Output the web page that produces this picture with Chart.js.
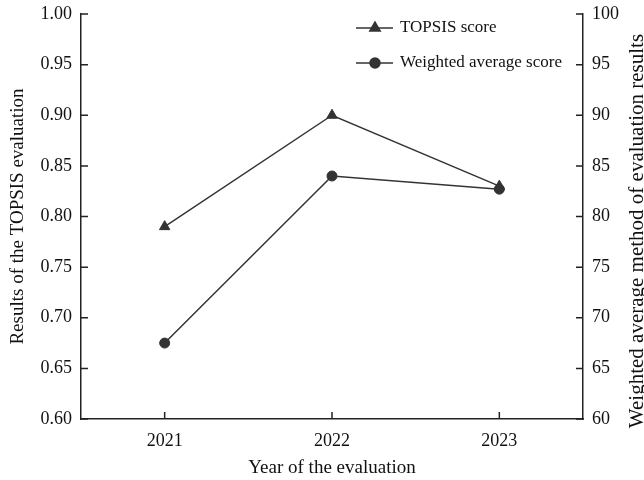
<!DOCTYPE html>
<html lang="en">
<head>
    <meta charset="UTF-8">
    <title>TOPSIS vs weighted average evaluation</title>
    <script src="https://cdn.jsdelivr.net/npm/chart.js"></script>
    <style>
        html, body { margin: 0; padding: 0; background: #ffffff; }
        #wrap { width: 644px; height: 480px; }
    </style>
</head>
<body>
    <div id="wrap"><canvas id="chart" width="644" height="480"></canvas></div>

    <script>
        const years = ['2021', '2022', '2023'];
        const topsisScore = [0.79, 0.90, 0.83];
        const weightedScore = [67.5, 84.0, 82.7];
        const leftTicks = [0.60, 0.65, 0.70, 0.75, 0.80, 0.85, 0.90, 0.95, 1.00];
        const rightTicks = [60, 65, 70, 75, 80, 85, 90, 95, 100];

        const ink = '#333333';
        const axisInk = '#222222';
        const textInk = '#111111';
        const serif = 'Liberation Serif, Times New Roman, serif';

        // ticks drawn inside the plot, like the original
        const innerTicks = {
            id: 'innerTicks',
            afterDraw(chart) {
                const ctx = chart.ctx;
                const { x, y, y1 } = chart.scales;
                const len = 7;
                ctx.save();
                ctx.strokeStyle = axisInk;
                ctx.lineWidth = 1.5;
                ctx.beginPath();
                y.ticks.forEach((t, i) => {
                    const py = y.getPixelForTick(i);
                    ctx.moveTo(y.right, py);
                    ctx.lineTo(y.right + len, py);
                });
                y1.ticks.forEach((t, i) => {
                    const py = y1.getPixelForTick(i);
                    ctx.moveTo(y1.left, py);
                    ctx.lineTo(y1.left - len, py);
                });
                x.ticks.forEach((t, i) => {
                    const px = x.getPixelForTick(i);
                    ctx.moveTo(px, x.top);
                    ctx.lineTo(px, x.top - len);
                });
                ctx.stroke();
                ctx.restore();
            }
        };

        // right axis title reads bottom-to-top in the original
        const rightTitle = {
            id: 'rightTitle',
            afterDraw(chart) {
                const ctx = chart.ctx;
                ctx.save();
                ctx.translate(637, 231);
                ctx.rotate(-Math.PI / 2);
                ctx.fillStyle = textInk;
                ctx.font = '21px ' + serif;
                ctx.textAlign = 'center';
                ctx.textBaseline = 'middle';
                ctx.fillText('Weighted average method of evaluation results', 0, 0);
                ctx.restore();
            }
        };

        // legend with line + marker, inside top right
        const lineLegend = {
            id: 'lineLegend',
            afterDraw(chart) {
                const ctx = chart.ctx;
                const rows = [
                    { text: 'TOPSIS score', style: 'triangle', y: 28 },
                    { text: 'Weighted average score', style: 'circle', y: 63 }
                ];
                ctx.save();
                rows.forEach(r => {
                    ctx.strokeStyle = ink;
                    ctx.lineWidth = 1.5;
                    ctx.beginPath();
                    ctx.moveTo(356, r.y);
                    ctx.lineTo(393, r.y);
                    ctx.stroke();
                    ctx.fillStyle = ink;
                    Chart.helpers.drawPoint(ctx, {
                        pointStyle: r.style,
                        radius: r.style === 'triangle' ? 6 : 5,
                        rotation: 0,
                        borderWidth: 1
                    }, 375, r.y);
                    ctx.fill();
                    ctx.fillStyle = textInk;
                    ctx.font = '17px ' + serif;
                    ctx.textBaseline = 'middle';
                    ctx.textAlign = 'left';
                    ctx.fillText(r.text, 400, r.y);
                });
                ctx.restore();
            }
        };

        // fixed box sizes so the plot area sits where the original's does
        const fitY = w => s => {
            s.width = w;
            s.paddingTop = 0;
            s.paddingBottom = 0;
        };

        new Chart(document.getElementById('chart'), {
            type: 'line',
            data: {
                labels: years,
                datasets: [
                    {
                        label: 'TOPSIS score',
                        data: topsisScore,
                        yAxisID: 'y',
                        order: 1,
                        borderColor: ink,
                        backgroundColor: ink,
                        borderWidth: 1.5,
                        pointStyle: 'triangle',
                        pointRadius: 6,
                        pointBorderWidth: 1,
                        tension: 0
                    },
                    {
                        label: 'Weighted average score',
                        data: weightedScore,
                        yAxisID: 'y1',
                        order: 0,
                        borderColor: ink,
                        backgroundColor: ink,
                        borderWidth: 1.5,
                        pointStyle: 'circle',
                        pointRadius: 5,
                        pointBorderWidth: 1,
                        tension: 0
                    }
                ]
            },
            options: {
                responsive: false,
                animation: false,
                layout: { padding: { top: 14, left: 0, right: 0, bottom: 0 } },
                plugins: {
                    legend: { display: false },
                    tooltip: { enabled: false }
                },
                scales: {
                    x: {
                        offset: true,
                        grid: { display: false, drawTicks: false },
                        border: { display: true, color: axisInk, width: 1.5 },
                        ticks: { color: textInk, padding: 11, font: { family: serif, size: 18 } },
                        title: {
                            display: true,
                            text: 'Year of the evaluation',
                            color: textInk,
                            font: { family: serif, size: 19 },
                            padding: { top: 0, bottom: 1 }
                        },
                        afterFit: s => { s.height = 61; }
                    },
                    y: {
                        position: 'left',
                        min: 0.60,
                        max: 1.00,
                        afterBuildTicks: s => { s.ticks = leftTicks.map(v => ({ value: v })); },
                        grid: { display: false, drawTicks: false },
                        border: { display: true, color: axisInk, width: 1.5 },
                        ticks: {
                            color: textInk,
                            padding: 9,
                            font: { family: serif, size: 18 },
                            callback: v => v.toFixed(2)
                        },
                        title: {
                            display: true,
                            text: 'Results of the TOPSIS evaluation',
                            color: textInk,
                            font: { family: serif, size: 19 },
                            padding: { top: 7, bottom: 0 }
                        },
                        afterFit: fitY(81)
                    },
                    y1: {
                        position: 'right',
                        min: 60,
                        max: 100,
                        afterBuildTicks: s => { s.ticks = rightTicks.map(v => ({ value: v })); },
                        grid: { display: false, drawTicks: false },
                        border: { display: true, color: axisInk, width: 1.5 },
                        ticks: {
                            color: textInk,
                            padding: 9,
                            font: { family: serif, size: 18 },
                            callback: v => String(v)
                        },
                        title: { display: false },
                        afterFit: fitY(61)
                    }
                }
            },
            plugins: [innerTicks, rightTitle, lineLegend]
        });
    </script>
</body>
</html>
